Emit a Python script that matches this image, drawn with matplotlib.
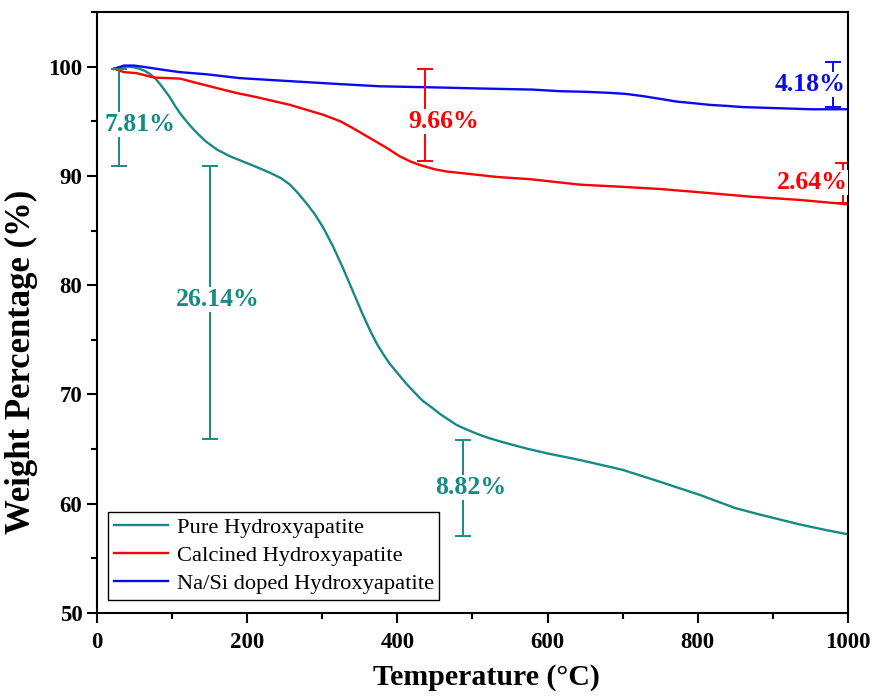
import matplotlib
matplotlib.use('Agg')
import matplotlib.pyplot as plt
from matplotlib.ticker import MultipleLocator

plt.rcParams['font.family'] = ['Liberation Serif', 'DejaVu Serif']

pure_t = [23, 32, 40, 48, 57, 64, 71, 78, 84, 90, 97, 104, 111, 118, 124, 135, 146, 160,
          177, 195, 213, 230, 245, 257, 268, 280, 290, 301, 314, 328, 341, 354, 364, 373,
          382, 390, 402, 413, 424, 434, 446, 457, 468, 479, 492, 506, 520, 532, 550, 575,
          600, 643, 700, 750, 803, 850, 883, 936, 970, 1000]
pure_w = [99.8, 99.95, 100.0, 99.95, 99.8, 99.6, 99.3, 98.9, 98.4, 97.85, 97.2, 96.4, 95.7,
          95.1, 94.6, 93.8, 93.1, 92.4, 91.8, 91.3, 90.8, 90.3, 89.8, 89.2, 88.4, 87.4,
          86.5, 85.3, 83.6, 81.5, 79.4, 77.3, 75.8, 74.6, 73.6, 72.8, 71.8, 70.9, 70.1,
          69.4, 68.8, 68.2, 67.7, 67.2, 66.8, 66.4, 66.05, 65.8, 65.45, 65.0, 64.6, 64.0,
          63.1, 62.0, 60.8, 59.6, 59.0, 58.1, 57.6, 57.2]

calc_t = [23, 36, 53, 76, 95, 111, 133, 156, 185, 213, 257, 301, 324, 340, 355, 370, 385,
          403, 418, 430, 450, 466, 500, 533, 577, 643, 700, 750, 803, 870, 936, 1000]
calc_w = [99.8, 99.5, 99.4, 99.0, 98.95, 98.9, 98.5, 98.1, 97.6, 97.2, 96.5, 95.6, 95.0,
          94.4, 93.8, 93.2, 92.6, 91.8, 91.3, 91.0, 90.6, 90.4, 90.15, 89.9, 89.7, 89.2,
          89.0, 88.8, 88.5, 88.1, 87.8, 87.4]

dop_t = [23, 36, 49, 65, 89, 110, 146, 190, 250, 324, 377, 450, 510, 580, 617, 650, 683,
         705, 727, 750, 772, 795, 816, 840, 860, 905, 950, 1000]
dop_w = [99.8, 100.1, 100.1, 99.95, 99.7, 99.5, 99.3, 98.95, 98.7, 98.4, 98.2, 98.1, 98.0,
         97.9, 97.75, 97.7, 97.6, 97.5, 97.3, 97.05, 96.8, 96.65, 96.5, 96.4, 96.3, 96.2,
         96.1, 96.1]

labels = ['Pure Hydroxyapatite', 'Calcined Hydroxyapatite', 'Na/Si doped Hydroxyapatite']
colors = ['#168a85', '#ff0000', '#0a0aee']

# weight-loss markers: bar x, top, bottom, text, text x, text y, series index
step_x = [29, 150, 437, 487, 980, 993]
step_top = [99.8, 90.9, 99.8, 65.8, 100.4, 91.2]
step_bot = [90.9, 65.9, 91.4, 57.05, 96.3, 87.5]
step_txt = ['7.81%', '26.14%', '9.66%', '8.82%', '4.18%', '2.64%']
txt_x = [57, 161, 462, 498, 949, 952]
txt_y = [94.7, 78.7, 95.0, 61.5, 98.35, 89.4]
step_col = [0, 0, 1, 0, 2, 1]

fig = plt.figure(figsize=(8.76, 6.98), dpi=100)
ax = fig.add_axes([0.1107, 0.1218, 0.8573, 0.861])

for t, w, lab, c in zip([pure_t, calc_t, dop_t], [pure_w, calc_w, dop_w], labels, colors):
    ax.plot(t, w, color=c, lw=1.7, label=lab)

for i in range(len(step_x)):
    c = colors[step_col[i]]
    mid = (step_top[i] + step_bot[i]) / 2
    half = (step_top[i] - step_bot[i]) / 2
    ax.errorbar(step_x[i], mid, yerr=half, color=c, capsize=6, elinewidth=1.4,
                capthick=1.4, fmt='none')
    ax.text(txt_x[i], txt_y[i], step_txt[i], color=c, fontsize=18.5, fontweight='bold',
            ha='center', va='center',
            bbox=dict(facecolor='white', edgecolor='none', pad=0.5))

ax.set_xlim(0, 1000)
ax.set_ylim(50, 105)
ax.xaxis.set_major_locator(MultipleLocator(200))
ax.xaxis.set_minor_locator(MultipleLocator(100))
ax.yaxis.set_major_locator(MultipleLocator(10))
ax.yaxis.set_minor_locator(MultipleLocator(5))
ax.tick_params(which='both', direction='out', top=False, right=False, width=1.5)
ax.tick_params(which='major', length=7, labelsize=16.5)
ax.tick_params(which='minor', length=4)
ax.tick_params(axis='x', which='major', pad=7)
for lab in ax.get_xticklabels() + ax.get_yticklabels():
    lab.set_fontweight('bold')
for s in ax.spines.values():
    s.set_linewidth(1.5)

ax.set_xlabel('Temperature (°C)', fontsize=21.5, fontweight='bold')
ax.xaxis.set_label_coords(0.518, -0.085)
ax.set_ylabel('Weight Percentage (%)', fontsize=25, fontweight='bold')
ax.yaxis.set_label_coords(-0.078, 0.418)

leg = ax.legend(loc='lower left', bbox_to_anchor=(0.0146, 0.022), borderaxespad=0,
                fontsize=16.2, fancybox=False, edgecolor='black', framealpha=1,
                handlelength=2.4, handletextpad=0.4, labelspacing=0.32, borderpad=0.25)
leg.get_frame().set_linewidth(1.0)

fig.savefig('out.png', dpi=100)
